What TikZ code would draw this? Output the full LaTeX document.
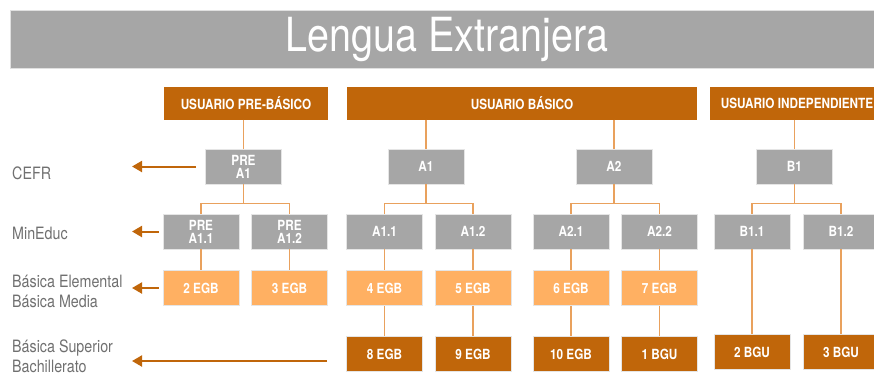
\documentclass[tikz,border=0pt]{standalone}
\usepackage{fontspec}
\setmainfont{TeX Gyre Heros}
\newfontfamily\narrowfont{TeX Gyre Heros}[FakeStretch=0.84]
\usetikzlibrary{arrows.meta,calc}

\definecolor{lvlbrown}{HTML}{C0660A}
\definecolor{lvlpeach}{HTML}{FFB062}
\definecolor{lvlgray}{HTML}{A6A6A6}
\definecolor{linkorange}{HTML}{E9A15D}
\definecolor{labelgray}{HTML}{707070}

\tikzset{
  levelbox/.style={minimum width=76pt, minimum height=35pt, inner sep=0pt,
    align=center, text=white, draw=black!10, line width=0.8pt,
    font=\narrowfont\bfseries\fontsize{14}{13}\selectfont},
  cefrbox/.style={levelbox, fill=lvlgray},
  educbox/.style={levelbox, fill=lvlgray},
  egbbox/.style={levelbox, fill=lvlpeach},
  topbox/.style={levelbox, fill=lvlbrown},
  userhead/.style={minimum height=33pt, inner sep=0pt, fill=lvlbrown, text=white,
    font=\narrowfont\bfseries\fontsize{14}{14}\selectfont},
  rowlabel/.style={anchor=west, align=left, inner sep=0pt, text=labelgray,
    font=\narrowfont\fontsize{17}{20}\selectfont},
  link/.style={draw=linkorange, line width=1.5pt},
  pointer/.style={draw=lvlbrown, line width=2pt, -{Triangle[length=10pt,width=11pt]}}
}

\begin{document}
\begin{tikzpicture}[x=1pt, y=-1pt]
  \useasboundingbox (0,0) rectangle (874,376);
  \clip (0,0) rectangle (874,376);

  % Title
  \node[minimum width=874pt, minimum height=58pt, inner sep=0pt, fill=lvlgray,
    draw=black!12, line width=1pt, text=white,
    font=\narrowfont\fontsize{47}{47}\selectfont] (title) at (447,39) {Lengua Extranjera};

  % User levels
  \node[userhead, minimum width=164pt] (hpre) at (246,103) {USUARIO PRE-BÁSICO};
  \node[userhead, minimum width=350pt] (hbas) at (522,103) {USUARIO BÁSICO};
  \node[userhead, minimum width=174pt] (hind) at (797,103) {USUARIO INDEPENDIENTE};

  % CEFR
  \node[cefrbox] (preA1) at (243.5,166.5) {PRE\\A1};
  \node[cefrbox] (A1) at (426,166.5) {A1};
  \node[cefrbox] (A2) at (614,166.5) {A2};
  \node[cefrbox] (B1) at (794.5,166.5) {B1};

  % MinEduc
  \node[educbox] (preA11) at (201,231.5) {PRE\\A1.1};
  \node[educbox] (preA12) at (289.5,231.5) {PRE\\A1.2};
  \node[educbox] (A11) at (384.5,231.5) {A1.1};
  \node[educbox] (A12) at (473,231.5) {A1.2};
  \node[educbox] (A21) at (571,231.5) {A2.1};
  \node[educbox] (A22) at (659.5,231.5) {A2.2};
  \node[educbox] (B11) at (752,231.5) {B1.1};
  \node[educbox] (B12) at (841,231.5) {B1.2};

  % Basica elemental / media
  \node[egbbox] (egb2) at (201,288) {2 EGB};
  \node[egbbox] (egb3) at (289.5,288) {3 EGB};
  \node[egbbox] (egb4) at (384.5,288) {4 EGB};
  \node[egbbox] (egb5) at (473,288) {5 EGB};
  \node[egbbox] (egb6) at (571,288) {6 EGB};
  \node[egbbox] (egb7) at (659.5,288) {7 EGB};

  % Basica superior / bachillerato
  \node[topbox] (egb8) at (384.5,354) {8 EGB};
  \node[topbox] (egb9) at (473,354) {9 EGB};
  \node[topbox] (egb10) at (571,354) {10 EGB};
  \node[topbox] (bgu1) at (659.5,354) {1 BGU};
  \node[topbox] (bgu2) at (752,352) {2 BGU};
  \node[topbox] (bgu3) at (841,352) {3 BGU};

  % Links
  \draw[link] (preA1.north |- hpre.south) -- (preA1.north);
  \draw[link] (A1.north |- hbas.south) -- (A1.north);
  \draw[link] (A2.north |- hbas.south) -- (A2.north);
  \draw[link] (B1.north |- hind.south) -- (B1.north);
  \foreach \p/\a/\b in {preA1/preA11/preA12, A1/A11/A12, A2/A21/A22, B1/B11/B12} {
    \draw[link] (\p.south) -- ++(0,19) -| (\a.north);
    \draw[link] (\p.south) -- ++(0,19) -| (\b.north);
  }
  \foreach \a/\b in {preA11/egb2, preA12/egb3, A11/egb4, egb4/egb8, A12/egb5, egb5/egb9,
    A21/egb6, egb6/egb10, A22/egb7, egb7/bgu1, B11/bgu2, B12/bgu3}
    \draw[link] (\a.south) -- (\b.north);

  % Row labels
  \coordinate (tipx) at (132,0);
  \node[rowlabel] (lcefr) at (12,173) {CEFR};
  \node[rowlabel] (leduc) at (12,233) {MinEduc};
  \node[rowlabel] (lbasica) at (12,291) {Básica Elemental\\Básica Media};
  \node[rowlabel] (lsup) at (12,356) {Básica Superior\\Bachillerato};

  \draw[pointer] ([xshift=-9pt]preA1.west) -- (preA1.west -| tipx);
  \draw[pointer] ([xshift=-4pt]preA11.west) -- (preA11.west -| tipx);
  \draw[pointer] ([xshift=-4pt]egb2.west) -- (egb2.west -| tipx);
  \draw[pointer] ([xshift=-19pt,yshift=-7pt]egb8.west) -- ([yshift=-7pt]egb8.west -| tipx);
\end{tikzpicture}
\end{document}
